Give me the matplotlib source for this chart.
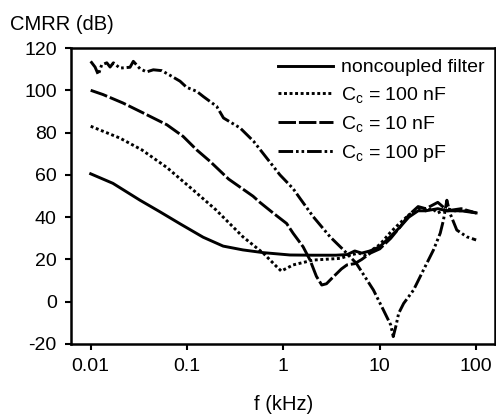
import matplotlib
matplotlib.use("Agg")
import matplotlib.pyplot as plt

plt.rcParams['font.family'] = ['Liberation Sans', 'DejaVu Sans']
plt.rcParams['mathtext.fontset'] = 'custom'
plt.rcParams['mathtext.rm'] = 'Liberation Sans'
plt.rcParams['mathtext.it'] = 'Liberation Sans'
plt.rcParams['axes.unicode_minus'] = False

# ---- data (f in kHz, CMRR in dB) ----
f_nc = [0.01, 0.017, 0.0325, 0.052, 0.085, 0.147, 0.237, 0.38, 0.62, 1.17, 2.0, 3.5,
        4.6, 5.5, 6.5, 7.9, 10, 13, 16, 20, 25, 30, 40, 50, 70, 100]
db_nc = [60.5, 56, 48, 42.6, 36.8, 30.5, 26.3, 24.5, 23.2, 22.1, 22, 22,
         22.3, 24, 23, 24, 26, 31, 35, 40, 43, 43, 44, 43, 43, 42]

f_100n = [0.01, 0.0201, 0.034, 0.0617, 0.116, 0.2, 0.38, 0.62, 0.85, 0.95, 1.26, 2.04,
          3.9, 4.9, 6, 7, 8, 10, 13, 16, 20, 25, 30, 35, 40, 50, 60, 80, 100]
db_100n = [83, 77.4, 71.8, 63.5, 52.8, 43.4, 30.7, 22.9, 16.6, 14.5, 17.4, 19.7,
           20.5, 22, 23, 22, 24, 27, 33, 37, 41, 44, 43, 44, 42, 44, 43, 43, 42]

f_10n = [0.01, 0.0134, 0.0216, 0.035, 0.0617, 0.091, 0.126, 0.173, 0.27, 0.484, 0.57,
         0.79, 1.08, 1.26, 1.6, 1.89, 2.2, 2.5, 2.8, 3.17, 4.0, 4.56, 5.5, 6.5, 8, 10,
         13, 16, 20, 25, 30, 40, 45, 50, 70, 100]
db_10n = [100, 98, 94, 89.3, 83.7, 78.2, 71.8, 66.4, 58, 49.9, 47,
          41.8, 37, 32.4, 26, 19.7, 12, 7.9, 8.5, 11, 15.5, 17.4, 18, 20, 23, 25,
          30, 35, 41, 45, 44, 47, 45, 43, 44, 42]

f_100p = [0.01, 0.0111, 0.012, 0.013, 0.0147, 0.0159, 0.0172, 0.0201, 0.0256, 0.0277,
          0.0325, 0.038, 0.0447, 0.0546, 0.0665, 0.0846, 0.099, 0.126, 0.148, 0.203,
          0.239, 0.355, 0.49, 0.67, 0.92, 1.26, 1.48, 2.04, 3.05, 4.2, 5.7, 8.6, 10.9,
          13.0, 13.8, 14.8, 15.7, 17.7, 22.4, 28.4, 36.1, 42.4, 45.8, 49.7, 53.6, 63,
          80, 100]
db_100p = [113.7, 111, 107.4, 112, 113, 111, 113, 110.5, 110.9, 113.7,
           110.2, 108.7, 109.7, 109.3, 107.1, 104.3, 101.4, 99.5, 97, 92.4,
           86.9, 82.2, 75.9, 68, 60, 53.5, 49, 40.2, 30.7, 24.5, 18.2, 5.5, -3.9,
           -11, -16.5, -11, -5.5, -0.8, 5.5, 15, 24.5, 32.4, 38.6, 48, 41.8, 33.9,
           30.7, 29.2]

labels = ['noncoupled filter', r'C$_\mathregular{c}$ = 100 nF',
          r'C$_\mathregular{c}$ = 10 nF', r'C$_\mathregular{c}$ = 100 pF']
xticks = [0.01, 0.1, 1, 10, 100]
xticklabels = ['0.01', '0.1', '1', '10', '100']
yticks = [-20, 0, 20, 40, 60, 80, 100, 120]

fig = plt.figure(figsize=(4.96, 4.15), dpi=100)
ax = fig.add_axes([0.1425, 0.1711, 0.998 - 0.1425, 0.8843 - 0.1711])

lw = 2.1
ax.plot(f_nc, db_nc, color='black', lw=lw, linestyle='-', label=labels[0])
ax.plot(f_100n, db_100n, color='black', lw=lw, linestyle=(0, (1.0, 0.9)), label=labels[1])
ax.plot(f_10n, db_10n, color='black', lw=lw, linestyle=(0, (6, 1.0)), label=labels[2])
ax.plot(f_100p, db_100p, color='black', lw=lw,
        linestyle=(0, (5, 1.0, 0.9, 1.0, 0.9, 1.0)), label=labels[3])

ax.set_xscale('log')
ax.set_xlim(0.0062, 157)
ax.set_ylim(-20, 120)
ax.set_xticks(xticks)
ax.set_xticklabels(xticklabels)
ax.set_yticks(yticks)
ax.minorticks_off()
ax.tick_params(direction='out', length=4, width=1.5, labelsize=14, pad=6)
for s in ax.spines.values():
    s.set_linewidth(1.8)

leg = ax.legend(loc='upper right', bbox_to_anchor=(1.0, 1.0), frameon=False,
                fontsize=14, handlelength=2.8, handletextpad=0.4,
                labelspacing=0.45, borderaxespad=0.15)

fig.text(10 / 496, 1 - 24 / 415, 'CMRR (dB)', fontsize=14.5, ha='left', va='center')
fig.text(284 / 496, 1 - 404 / 415, 'f (kHz)', fontsize=14.5, ha='center', va='center')

fig.savefig('out.png', dpi=100)
